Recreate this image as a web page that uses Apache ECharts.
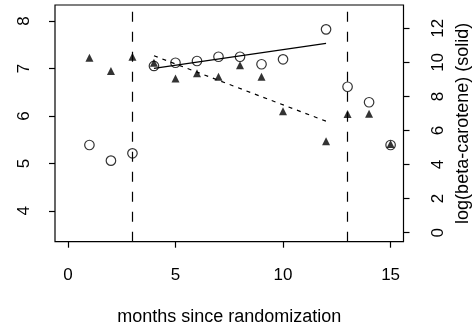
<!DOCTYPE html>
<html>
<head>
<meta charset="utf-8">
<script src="https://cdn.jsdelivr.net/npm/echarts@6/dist/echarts.min.js"></script>
<style>
html,body{margin:0;padding:0;background:#fff;}
#chart{width:472px;height:328px;}
</style>
</head>
<body>
<div id="chart"></div>
<script>
// months at which measurements were taken
var months = [1, 2, 3, 4, 5, 6, 7, 8, 9, 10, 12, 13, 14, 15];
// open circles: log(beta-carotene), right axis
var circleValues = [5.15, 4.23, 4.66, 9.79, 9.98, 10.08, 10.33, 10.33, 9.89, 10.18, 11.94, 8.57, 7.66, 5.15];
// filled triangles: left axis
var triangleValues = [7.23, 6.95, 7.25, 7.12, 6.79, 6.90, 6.83, 7.07, 6.83, 6.10, 5.47, 6.04, 6.05, 5.41];
// fitted lines (months 4 to 12)
var fitMonths = [4, 12];
var solidFit = [9.65, 11.12];   // right axis
var dashedFit = [7.27, 5.89];   // left axis
// vertical reference lines
var refMonths = [3, 13];
// tick labels
var xTicks = [0, 5, 10, 15];
var leftTicks = [4, 5, 6, 7, 8];
var rightTicks = [0, 2, 4, 6, 8, 10, 12];

function pairs(xs, ys) { return xs.map(function (x, i) { return [x, ys[i]]; }); }

var FONT = "'Liberation Sans', Arial, sans-serif";
var chart = echarts.init(document.getElementById('chart'), null, {renderer: 'canvas'});
chart.setOption({
  animation: false,
  backgroundColor: '#fff',
  textStyle: {fontFamily: FONT, color: '#000'},
  grid: {left: 55, top: 5, right: 68.5, bottom: 86.3, containLabel: false, outerBoundsMode: 'none',
         show: true, borderColor: '#000', borderWidth: 1.2, backgroundColor: 'transparent'},
  xAxis: {
    type: 'value', min: -0.6, max: 15.6,
    name: 'months since randomization', nameLocation: 'middle', nameGap: 66,
    nameTextStyle: {fontSize: 18, color: '#000', fontFamily: FONT},
    axisLine: {show: false, onZero: false},
    splitLine: {show: false},
    axisTick: {show: true, inside: false, length: 6, lineStyle: {color: '#000', width: 1.2}, customValues: xTicks},
    axisLabel: {fontSize: 17, color: '#000', fontFamily: FONT, margin: 25, customValues: xTicks}
  },
  yAxis: [{
    type: 'value', min: 3.35, max: 8.34, position: 'left',
    axisLine: {show: false, onZero: false},
    splitLine: {show: false},
    axisTick: {show: true, inside: false, length: 6, lineStyle: {color: '#000', width: 1.2}, customValues: leftTicks},
    axisLabel: {fontSize: 17, color: '#000', fontFamily: FONT, margin: 22, rotate: 90, customValues: leftTicks}
  }, {
    type: 'value', min: -0.53, max: 13.37, position: 'right',
    name: 'log(beta-carotene) (solid)', nameLocation: 'middle', nameGap: 51, nameRotate: 90,
    nameTextStyle: {fontSize: 18, color: '#000', fontFamily: FONT},
    axisLine: {show: false, onZero: false},
    splitLine: {show: false},
    axisTick: {show: true, inside: false, length: 6, lineStyle: {color: '#000', width: 1.2}, customValues: rightTicks},
    axisLabel: {fontSize: 17, color: '#000', fontFamily: FONT, margin: 26, rotate: 90, customValues: rightTicks}
  }],
  series: [{
    type: 'scatter', yAxisIndex: 1, data: pairs(months, circleValues),
    symbol: 'circle', symbolSize: 9.5,
    itemStyle: {color: 'rgba(0,0,0,0)', borderColor: '#000', borderWidth: 1.2},
    markLine: {
      silent: true, symbol: 'none', label: {show: false},
      lineStyle: {color: '#000', width: 1.2, type: [10, 10]},
      data: refMonths.map(function (m) { return {xAxis: m}; })
    }
  }, {
    type: 'scatter', yAxisIndex: 0, data: pairs(months, triangleValues),
    symbol: 'triangle', symbolSize: 8,
    itemStyle: {color: '#000'}
  }, {
    type: 'line', yAxisIndex: 1, data: pairs(fitMonths, solidFit),
    showSymbol: false, lineStyle: {color: '#000', width: 1.2, type: 'solid'}
  }, {
    type: 'line', yAxisIndex: 0, data: pairs(fitMonths, dashedFit),
    showSymbol: false, lineStyle: {color: '#000', width: 1.2, type: [4, 5]}
  }]
});
</script>
</body>
</html>
